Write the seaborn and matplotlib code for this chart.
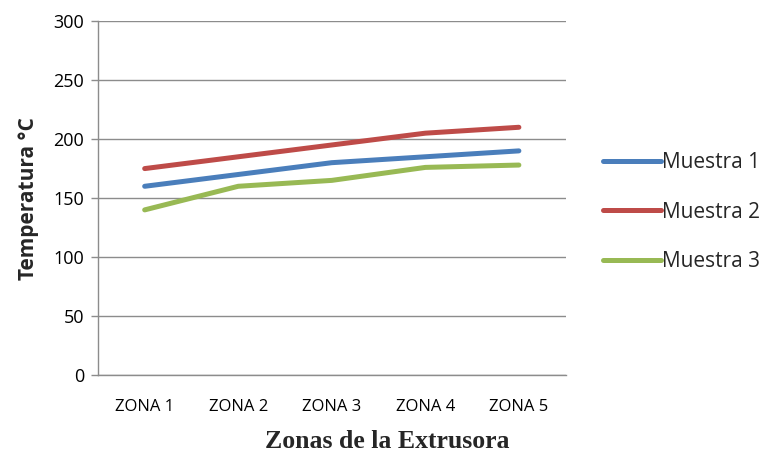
import matplotlib
matplotlib.use("Agg")
import matplotlib.pyplot as plt
import seaborn as sns
import pandas as pd

zonas = ["ZONA 1", "ZONA 2", "ZONA 3", "ZONA 4", "ZONA 5"]
muestra_1 = [160, 170, 180, 185, 190]
muestra_2 = [175, 185, 195, 205, 210]
muestra_3 = [140, 160, 165, 176, 178]
series_names = ["Muestra 1", "Muestra 2", "Muestra 3"]
colors = ["#4A7EBB", "#BE4B48", "#98B954"]
y_ticks = [0, 50, 100, 150, 200, 250, 300]

df = pd.DataFrame({
    "Zona": zonas * 3,
    "Temperatura": muestra_1 + muestra_2 + muestra_3,
    "Serie": [n for n in series_names for _ in zonas],
})

sns.set_theme(style="white")
plt.rcParams["font.family"] = ["Open Sans", "DejaVu Sans"]

fig = plt.figure(figsize=(7.77, 4.58), dpi=100)
ax = fig.add_axes([0.126, 0.181, 0.602, 0.773])

sns.lineplot(data=df, x="Zona", y="Temperatura", hue="Serie",
             palette=colors, linewidth=3.6, ax=ax, sort=False,
             solid_capstyle="round")

ax.set_ylim(0, 300)
ax.set_xlim(-0.5, 4.5)
ax.set_yticks(y_ticks)
ax.yaxis.grid(True, color="#8C8C8C", linewidth=1)
ax.set_axisbelow(True)
for s in ["top", "right"]:
    ax.spines[s].set_visible(False)
for s in ["left", "bottom"]:
    ax.spines[s].set_color("#8C8C8C")
    ax.spines[s].set_linewidth(1)

ax.tick_params(axis="y", which="major", left=True, length=5, width=1,
               color="#8C8C8C", labelsize=13, pad=5)
ax.tick_params(axis="x", bottom=False, labelsize=12, pad=11)
for t in ax.get_xticklabels() + ax.get_yticklabels():
    t.set_color("black")

ax.set_xlabel("")
fig.text(0.498, 0.022, "Zonas de la Extrusora", fontsize=18.5,
         fontweight="bold", family="Liberation Serif", ha="center",
         va="baseline")
ax.set_ylabel("Temperatura °C", fontsize=15, fontweight="bold", labelpad=10)

ax.legend(loc="center left", bbox_to_anchor=(1.04, 0.46), frameon=False,
          fontsize=15, handlelength=2.8, handletextpad=0.05,
          labelspacing=1.38)

fig.savefig("out.png", dpi=100)
